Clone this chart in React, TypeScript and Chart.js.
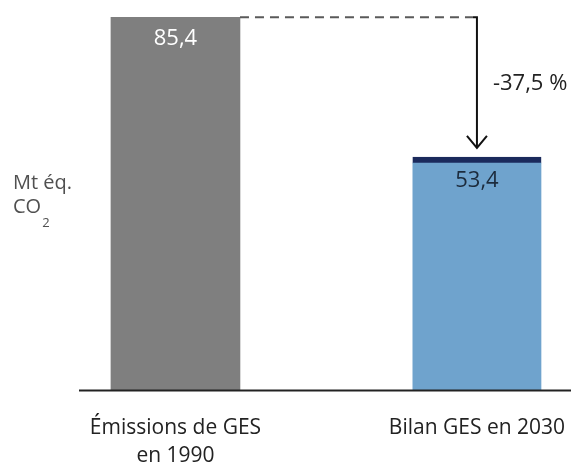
import { useEffect, useRef } from "react";
import { Chart, registerables } from "chart.js";

Chart.register(...registerables);

// Emissions (Mt CO2 equivalent)
const categories: string[][] = [["Émissions de GES", "en 1990"], ["Bilan GES en 2030"]];
const values: number[] = [85.4, 53.4];
const barColors: string[] = ["#7f7f7f", "#6fa3cd"];
const valueColors: string[] = ["#ffffff", "#1c2b3c"];
const unitLabel: string[] = ["Mt éq.", "CO", "2"];

const FONT = "'Open Sans', 'DejaVu Sans', sans-serif";

const fmt = (v: number) => v.toFixed(1).replace(".", ",");

const overlay = {
  id: "overlay",
  afterDatasetsDraw(chart: any) {
    const { ctx, chartArea, scales } = chart;
    const xs = scales.x;
    const ys = scales.y;
    const bars = chart.getDatasetMeta(0).data;

    ctx.save();

    // baseline
    ctx.strokeStyle = "#222222";
    ctx.lineWidth = 2;
    ctx.beginPath();
    ctx.moveTo(chartArea.left, chartArea.bottom + 0.5);
    ctx.lineTo(chartArea.right, chartArea.bottom + 0.5);
    ctx.stroke();

    // values inside bars
    ctx.textAlign = "center";
    ctx.textBaseline = "middle";
    ctx.font = `22px ${FONT}`;
    bars.forEach((bar: any, i: number) => {
      const inset = i === 1 ? 24 : 21;
      ctx.fillStyle = valueColors[i];
      ctx.fillText(fmt(values[i]), bar.x, bar.y + inset);
    });

    // dashed reference line from the 1990 level and the arrow down to 2030
    const refY = ys.getPixelForValue(values[0]);
    const startX = bars[0].x + bars[0].width / 2;
    const arrowX = xs.getPixelForValue(1);
    const tipY = bars[1].y - 9;

    ctx.strokeStyle = "#5a5a5a";
    ctx.lineWidth = 2;
    ctx.setLineDash([9, 6]);
    ctx.beginPath();
    ctx.moveTo(startX, refY);
    ctx.lineTo(arrowX - 4, refY);
    ctx.stroke();
    ctx.setLineDash([]);

    ctx.strokeStyle = "#111111";
    ctx.lineWidth = 2;
    ctx.beginPath();
    ctx.moveTo(arrowX - 4, refY);
    ctx.lineTo(arrowX, refY);
    ctx.lineTo(arrowX, tipY);
    ctx.stroke();
    ctx.beginPath();
    ctx.moveTo(arrowX - 10, tipY - 12);
    ctx.lineTo(arrowX, tipY);
    ctx.lineTo(arrowX + 10, tipY - 12);
    ctx.stroke();

    // change label
    const change = (values[1] / values[0] - 1) * 100;
    ctx.fillStyle = "#222222";
    ctx.textAlign = "left";
    ctx.font = `22px ${FONT}`;
    ctx.fillText(`${fmt(change)} %`, arrowX + 16, (refY + tipY) / 2 + 1);

    // category labels
    ctx.textAlign = "center";
    ctx.font = `21px ${FONT}`;
    ctx.fillStyle = "#222222";
    categories.forEach((lines, i) => {
      const x = xs.getPixelForValue(i);
      lines.forEach((line, j) => {
        ctx.fillText(line, x, chartArea.bottom + 38 + j * 28);
      });
    });

    // unit label
    ctx.fillStyle = "#505050";
    ctx.textAlign = "left";
    ctx.textBaseline = "alphabetic";
    ctx.font = `20px ${FONT}`;
    ctx.fillText(unitLabel[0], 13, 189);
    ctx.fillText(unitLabel[1], 13, 213);
    const w = ctx.measureText(unitLabel[1]).width;
    ctx.font = `13px ${FONT}`;
    ctx.fillText(unitLabel[2], 13 + w + 1, 227);

    ctx.restore();
  },
};

export default function App() {
  const ref = useRef<HTMLCanvasElement>(null);

  useEffect(() => {
    if (!ref.current) return;
    const chart = new Chart(ref.current, {
      type: "bar",
      data: {
        datasets: [
          {
            data: values.map((v, i) => ({ x: i, y: v })),
            backgroundColor: barColors,
            borderColor: "#1b2a5c",
            borderWidth: (c: any) =>
              c.dataIndex === 1 ? { top: 6, left: 0, right: 0, bottom: 0 } : 0,
            borderSkipped: "start",
            barThickness: 129,
          },
        ],
      },
      options: {
        responsive: false,
        animation: false,
        layout: { padding: { left: 79, right: 0, top: 6, bottom: 78 } },
        plugins: { legend: { display: false }, tooltip: { enabled: false } },
        scales: {
          x: { type: "linear", display: false, offset: false, min: -0.32, max: 1.312 },
          y: { display: false, min: 0, max: 88 },
        },
      },
      plugins: [overlay],
    });
    return () => chart.destroy();
  }, []);

  return (
    <div style={{ position: "fixed", top: 0, left: 0, width: 571, height: 468, background: "#fff" }}>
      <canvas ref={ref} width={571} height={468} />
    </div>
  );
}
